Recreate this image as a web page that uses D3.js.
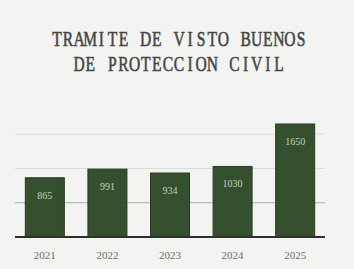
<!DOCTYPE html>
<html>
<head>
<meta charset="utf-8">
<script src="https://cdn.jsdelivr.net/npm/d3@7"></script>
<style>
  html, body { margin: 0; padding: 0; background: #f3f4f1; }
  svg { display: block; }
</style>
</head>
<body>
<svg id="chart" width="354" height="269"></svg>
<script>
const years = ["2021", "2022", "2023", "2024", "2025"];
const tramites = [865, 991, 934, 1030, 1650];
const gridValues = [500, 1000, 1500];
const titleLines = ["TRAMITE DE VISTO BUENOS", "DE PROTECCION CIVIL"];

const W = 354, H = 269;
const svg = d3.select("#chart");

svg.append("rect")
    .attr("width", W).attr("height", H)
    .attr("fill", "#f3f4f1");

// scales
const x = d3.scaleBand()
    .domain(years)
    .range([15, 325])
    .paddingInner(0.377)
    .paddingOuter(0.165);

const y = d3.scaleLinear()
    .domain([0, 1650])
    .range([237, 124]);

// gridlines
svg.append("g")
    .selectAll("line")
    .data(gridValues)
    .join("line")
        .attr("x1", 15).attr("x2", 325)
        .attr("y1", d => y(d)).attr("y2", d => y(d))
        .attr("stroke", (d, i) => i === 0 ? "#a9aba6" : "#d9dbd6")
        .attr("stroke-width", 1);

// bars
svg.append("g")
    .selectAll("rect")
    .data(tramites)
    .join("rect")
        .attr("x", (d, i) => x(years[i]))
        .attr("y", d => y(d))
        .attr("width", x.bandwidth())
        .attr("height", d => y(0) - y(d))
        .attr("fill", "#34502f")
        .attr("stroke", "#27391f")
        .attr("stroke-width", 1);

// value labels
svg.append("g")
    .selectAll("text")
    .data(tramites)
    .join("text")
        .attr("x", (d, i) => x(years[i]) + x.bandwidth() / 2)
        .attr("y", d => y(d) + 21)
        .attr("text-anchor", "middle")
        .attr("font-family", "Liberation Serif")
        .attr("font-size", 10)
        .attr("fill", "#c3d1bc")
        .text(d => d);

// baseline axis
const xAxis = d3.axisBottom(x).tickSize(0).tickPadding(14);
const axisG = svg.append("g")
    .attr("transform", `translate(0,${y(0)})`)
    .call(xAxis);
axisG.select(".domain").remove();
axisG.append("line")
    .attr("x1", 15).attr("x2", 325)
    .attr("stroke", "#2f312e")
    .attr("stroke-width", 2);
axisG.selectAll(".tick text")
    .attr("font-family", "Liberation Serif")
    .attr("font-size", 11)
    .attr("fill", "#6a6c68");

// title: typewriter look, each letter centred in a fixed cell
const cell = 11.1, squeeze = 0.76;
const titleG = svg.append("g");
titleG.selectAll("g")
    .data(titleLines)
    .join("g")
        .attr("transform", (d, i) => `translate(179,${45.5 + i * 25}) scale(${squeeze},1)`)
    .selectAll("text")
    .data(d => d.split("").map((c, j, a) => ({c, off: j - (a.length - 1) / 2})))
    .join("text")
        .attr("x", d => d.off * cell / squeeze)
        .attr("text-anchor", "middle")
        .attr("font-family", "Liberation Serif")
        .attr("font-size", 20.5)
        .attr("fill", "#444642")
        .attr("stroke", "#444642")
        .attr("stroke-width", 0.55)
        .text(d => d.c);
</script>
</body>
</html>
